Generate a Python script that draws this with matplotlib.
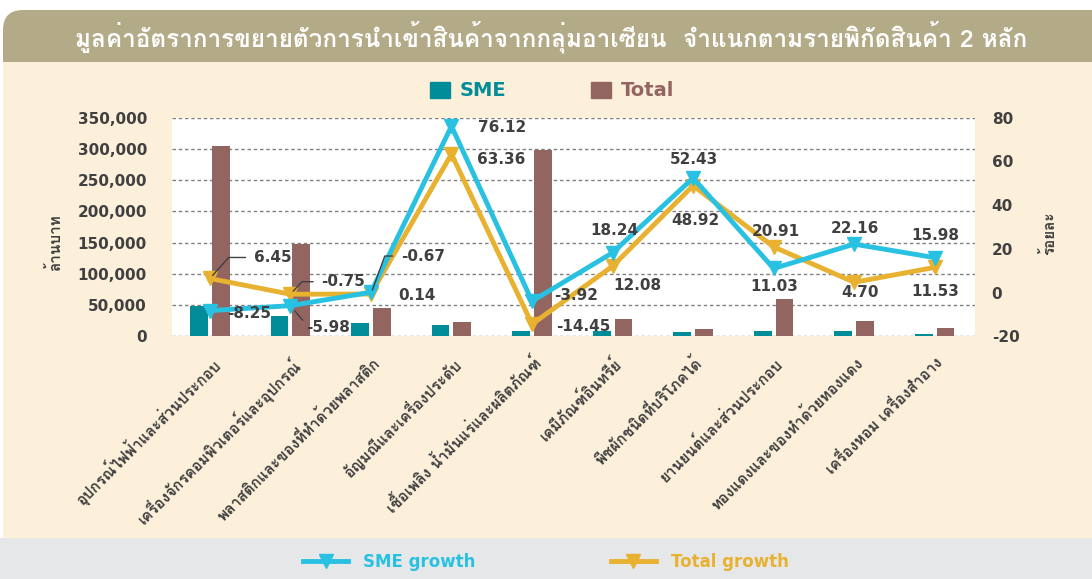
import matplotlib
matplotlib.use('Agg')
import matplotlib.pyplot as plt
import numpy as np
from matplotlib import font_manager
from matplotlib.ft2font import FT2Font
from matplotlib.patches import FancyBboxPatch, Rectangle, Patch
from matplotlib.lines import Line2D
from matplotlib.ticker import FuncFormatter

categories = ['อุปกรณ์ไฟฟ้าและส่วนประกอบ',
              'เครื่องจักรคอมพิวเตอร์และอุปกรณ์',
              'พลาสติกและของที่ทำด้วยพลาสติก',
              'อัญมณีและเครื่องประดับ',
              'เชื้อเพลิง น้ำมันแร่และผลิตภัณฑ์',
              'เคมีภัณฑ์อินทรีย์',
              'พืชผักชนิดที่บริโภคได้',
              'ยานยนต์และส่วนประกอบ',
              'ทองแดงและของทำด้วยทองแดง',
              'เครื่องหอม เครื่องสำอาง']
sme_value = [49000, 33000, 20500, 17500, 8000, 8000, 7500, 8000, 8000, 3000]
total_value = [304000, 148000, 46000, 22700, 299000, 27000, 11000, 59000, 24000, 12700]
sme_growth = [-8.25, -5.98, 0.14, 76.12, -3.92, 18.24, 52.43, 11.03, 22.16, 15.98]
total_growth = [6.45, -0.75, -0.67, 63.36, -14.45, 12.08, 48.92, 20.91, 4.70, 11.53]

title = 'มูลค่าอัตราการขยายตัวการนำเข้าสินค้าจากกลุ่มอาเซียน  จำแนกตามรายพิกัดสินค้า 2 หลัก'

TEAL = '#008C99'
BROWN = '#936560'
BLUE = '#29C1E1'
GOLD = '#E8B12F'
CREAM = '#FDF0DB'
DARK = '#404040'


def find_thai_font():
    for f in font_manager.fontManager.ttflist:
        try:
            if FT2Font(f.fname).get_char_index(0x0E01):
                return f.name
        except Exception:
            continue
    return 'DejaVu Sans'


thai = find_thai_font()
plt.rcParams['font.family'] = ['DejaVu Sans', thai]
plt.rcParams['axes.unicode_minus'] = False
thai_fam = [thai, 'DejaVu Sans']

fig = plt.figure(figsize=(10.92, 5.79), dpi=100)
fig.patch.set_facecolor('white')

# background bands (inch coordinates)
fig.patches.append(FancyBboxPatch((0.03, 4.99), 11.2, 0.70, boxstyle='round,pad=0,rounding_size=0.2',
                                  transform=fig.dpi_scale_trans, facecolor='#B3AB88',
                                  edgecolor='none', zorder=-3))
fig.patches.append(Rectangle((0.03, 0.41), 10.9, 4.76, transform=fig.dpi_scale_trans,
                             facecolor=CREAM, edgecolor='none', zorder=-2))
fig.patches.append(Rectangle((0, 0), 10.92, 0.41, transform=fig.dpi_scale_trans,
                             facecolor='#E6E7E9', edgecolor='none', zorder=-2))

fig.text(551 / 1092, 1 - 37 / 579, title, color='white', fontsize=17.5, fontweight='bold',
         ha='center', va='center', family=thai_fam)

ax = fig.add_axes([172 / 1092, 1 - 336.3 / 579, 803 / 1092, 218.6 / 579])
ax.set_facecolor('white')
x = np.arange(len(categories))
ax.bar(x - 0.135, sme_value, 0.22, color=TEAL, zorder=2)
ax.bar(x + 0.135, total_value, 0.22, color=BROWN, zorder=2)
ax.set_ylim(0, 350000)
ax.set_yticks(np.arange(0, 350001, 50000))
ax.yaxis.set_major_formatter(FuncFormatter(lambda v, p: f'{int(v):,}'))
ax.set_xlim(-0.47, 9.5)
ax.set_xticks(x)
ax.set_xticklabels(categories, rotation=45, ha='right', va='top', rotation_mode='anchor',
                   family=thai_fam, fontsize=11, fontweight='bold', color=DARK)
ax.grid(axis='y', color='#808080', linestyle=(0, (2.5, 2)), linewidth=1, zorder=1)
ax.set_axisbelow(True)
ax.tick_params(axis='both', length=0)
ax.tick_params(axis='y', pad=18, labelsize=11, labelcolor=DARK)
ax.tick_params(axis='x', pad=13)
for lab in ax.get_yticklabels():
    lab.set_fontweight('bold')
for s in ax.spines.values():
    s.set_visible(False)

ax2 = ax.twinx()
ax2.set_ylim(-20, 80)
ax2.set_yticks(np.arange(-20, 81, 20))
ax2.tick_params(axis='y', length=0, pad=12, labelsize=11, labelcolor=DARK)
for lab in ax2.get_yticklabels():
    lab.set_fontweight('bold')
for s in ax2.spines.values():
    s.set_visible(False)

ax2.plot(x, total_growth, color=GOLD, lw=3.5, marker='v', ms=10, zorder=3)
ax2.plot(x, sme_growth, color=BLUE, lw=3.5, marker='v', ms=10, zorder=4)

# label placement: (ha, dx, dy) in pixels, optional leader angle
sme_pos = [('left', 17, -3, None), ('left', 16, -22, 'straight'), ('left', 27, -3, None),
           ('left', 27, -1, None), ('left', 22, 6, None), ('center', 2, 22, None),
           ('center', 1, 18, None), ('center', 1, -18, None), ('center', 1, 16, None),
           ('center', 1, 22, None)]
total_pos = [('left', 44, 21, 48), ('left', 31, 12.5, 47), ('left', 30, 38, 70),
             ('left', 26, -5, None), ('left', 24, -2.5, None), ('center', 25, -19, None),
             ('center', 2, -35, None), ('center', 2, 15, None), ('center', 6, -10, None),
             ('center', 1, -24, None)]

for series, pos in ((sme_growth, sme_pos), (total_growth, total_pos)):
    for xi, v, (ha, dx, dy, lead) in zip(x, series, pos):
        kw = {}
        if lead == 'straight':
            kw['arrowprops'] = dict(arrowstyle='-', color=DARK, lw=1, shrinkA=1, shrinkB=5,
                                    relpos=(0, 0.7))
        elif lead is not None:
            kw['arrowprops'] = dict(arrowstyle='-', color=DARK, lw=1, shrinkA=4, shrinkB=3,
                                    relpos=(0, 0.5),
                                    connectionstyle=f'angle,angleA=0,angleB={lead},rad=0')
        ax2.annotate(f'{v:.2f}', xy=(xi, v), xytext=(dx, dy), textcoords='offset pixels',
                     ha=ha, va='center', fontsize=11, fontweight='bold', color=DARK,
                     zorder=5, **kw)

fig.text(55 / 1092, 1 - 243 / 579, 'ล้านบาท', rotation=90, ha='center', va='center',
         fontsize=11, fontweight='bold', color=DARK, family=thai_fam)
fig.text(1049 / 1092, 1 - 233 / 579, 'ร้อยละ', rotation=90, ha='center', va='center',
         fontsize=11, fontweight='bold', color=DARK, family=thai_fam)

fig.legend(handles=[Patch(color=TEAL), Patch(color=BROWN)], labels=['SME', 'Total'],
           loc='center', bbox_to_anchor=(552 / 1092, 1 - 91 / 579), ncol=2, frameon=False,
           prop={'size': 14, 'weight': 'bold'}, labelcolor=[TEAL, BROWN],
           handlelength=1.0, handleheight=0.9, handletextpad=0.5, columnspacing=4.4)

fig.legend(handles=[Line2D([], [], color=BLUE, lw=3.5, marker='v', ms=10),
                    Line2D([], [], color=GOLD, lw=3.5, marker='v', ms=10)],
           labels=['SME growth', 'Total growth'],
           loc='center', bbox_to_anchor=(546 / 1092, 1 - 562 / 579), ncol=2, frameon=False,
           prop={'size': 12, 'weight': 'bold'}, labelcolor=[BLUE, GOLD],
           handlelength=2.7, handletextpad=0.9, columnspacing=8.1)

fig.savefig('out.png', dpi=100)
